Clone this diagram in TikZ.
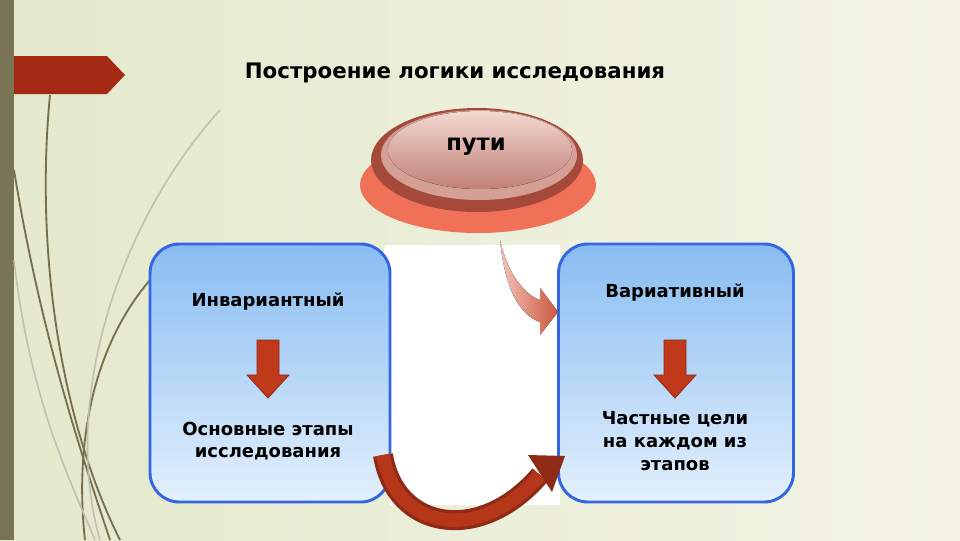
\documentclass[tikz,border=0pt]{standalone}
\usepackage{fontspec}
\setmainfont{DejaVu Sans}
\usetikzlibrary{shapes.geometric,arrows.meta}
\definecolor{bgA}{HTML}{F3F4E6}
\definecolor{bgB}{HTML}{E4E9CC}
\definecolor{strip}{HTML}{7A7457}
\definecolor{banner}{HTML}{A52A14}
\definecolor{grass}{HTML}{77704F}
\definecolor{boxline}{HTML}{3366E0}
\definecolor{boxtop}{HTML}{88BDF2}
\definecolor{boxbot}{HTML}{E4F0FC}
\definecolor{arr}{HTML}{C0391B}
\definecolor{arrdk}{HTML}{8E2A15}
\definecolor{salmon}{HTML}{F07058}
\definecolor{dome}{HTML}{A5493A}
\definecolor{domelt}{HTML}{F3D8D2}
\tikzset{
 box/.style={draw=boxline,line width=2.2pt,rounded corners=22pt,top color=boxtop,bottom color=boxbot},
 lbl/.style={font=\bfseries\fontsize{13.5}{17}\selectfont,align=center,text=black},
 darr/.style={draw=arrdk,line width=0.6pt,fill=arr},
 gr/.style={draw=grass,line width=1.4pt},
 grl/.style={draw=grass!45,line width=1.2pt}
}
\begin{document}
\begin{tikzpicture}[x=0.75pt,y=-0.75pt]
\useasboundingbox (0,0) rectangle (960,540);
\fill[left color=bgB,right color=bgA] (0,0) rectangle (960,540);
\fill[strip] (0,0) rectangle (14,540);
% grass
\draw[gr] (50,95) .. controls (35,250) and (60,420) .. (120,540);
\draw[gr] (14,170) .. controls (40,330) and (80,450) .. (110,540);
\draw[gr] (150,280) .. controls (90,350) and (75,450) .. (85,540);
\draw[grl] (220,110) .. controls (120,220) and (60,400) .. (100,540);
\draw[grl] (14,260) .. controls (30,400) and (70,480) .. (95,540);
% banner
\fill[banner] (14,56) -- (107,56) -- (125,75) -- (107,94) -- (14,94) -- cycle;
\node[font=\bfseries\fontsize{16}{19}\selectfont] (title) at (455,73) {Построение логики исследования};
% white region
\fill[white] (385,245) -- (560,245) -- (560,505) -- (390,505) -- (375,300) -- cycle;
% boxes
\node[box,minimum width=240*0.75pt,minimum height=258*0.75pt] (L) at (270,373) {};
\node[box,minimum width=235*0.75pt,minimum height=258*0.75pt] (R) at (676,373) {};
\node[lbl] (l1) at (268,301) {Инвариантный};
\node[lbl] (l2) at (268,441) {Основные этапы\\исследования};
\node[lbl] (r1) at (675,292) {Вариативный};
\node[lbl] (r2) at (675,441) {Частные цели\\на каждом из\\этапов};
% down arrows
\foreach \cx/\n in {268/da,675/db}{
 \draw[darr] (\cx-11,340) -- (\cx+11,340) -- (\cx+11,375) -- (\cx+21,375) -- (\cx,398) -- (\cx-21,375) -- (\cx-11,375) -- cycle;
}
% top curved arrow
\fill[left color=domelt!80!salmon,right color=arr!85] (500,240) .. controls (508,275) and (525,295) .. (540,300) -- (540,288) -- (558,312) -- (540,335) -- (540,322) .. controls (520,315) and (505,290) .. (500,240) -- cycle;
% bottom curved arrow
\coordinate (b1) at (383,455);
\coordinate (b2) at (540,475);
\draw[arrdk,line width=15pt] (b1) .. controls (395,530) and (480,545) .. (b2);
\draw[arr!80!arrdk,line width=10pt] (b1) .. controls (395,530) and (480,545) .. (b2);
\fill[arrdk] (528,455) -- (565,456) -- (552,492) -- cycle;
% button
\fill[salmon] (478,185) ellipse (118 and 48);
\fill[dome] (477,160) ellipse (106 and 52);
\fill[domelt!60!dome] (479,155) ellipse (98 and 45);
\fill[top color=domelt,bottom color=dome!70] (480,150) ellipse (92 and 39);
\node[font=\bfseries\fontsize{17}{20}\selectfont] (p) at (476,147) {пути};
\end{tikzpicture}
\end{document}
